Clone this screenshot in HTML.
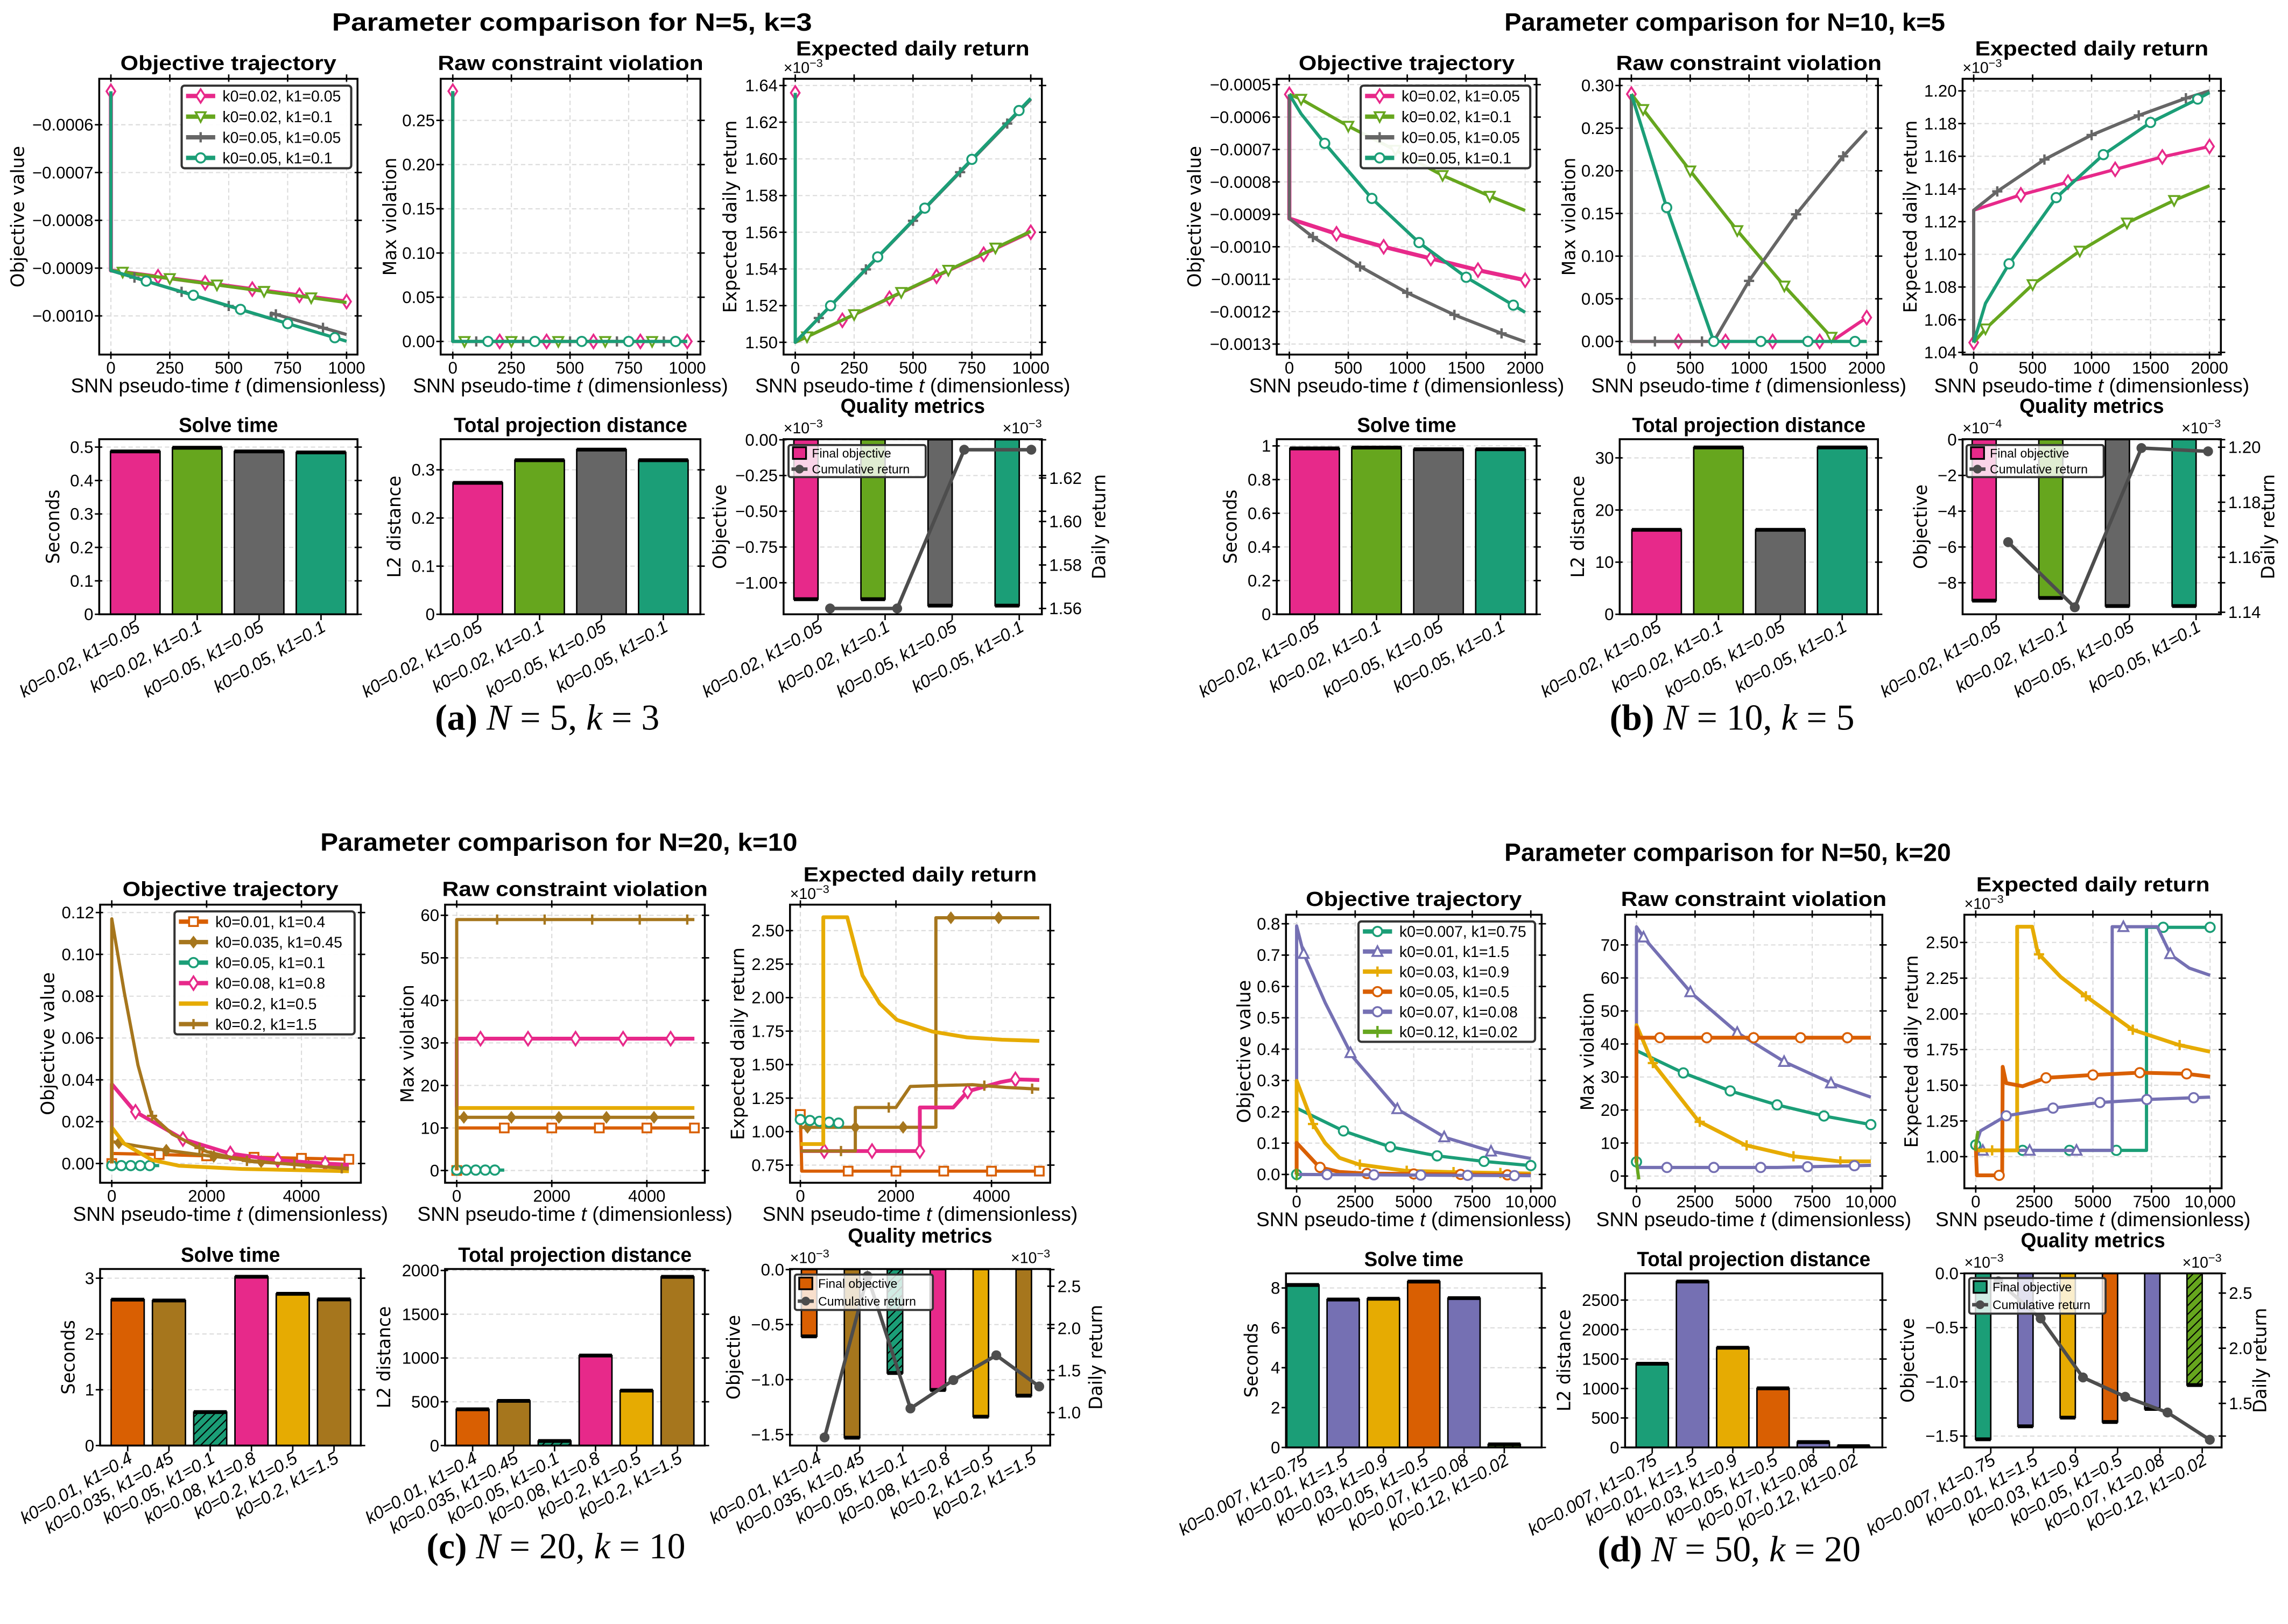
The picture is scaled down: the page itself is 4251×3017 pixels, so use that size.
<!DOCTYPE html>
<html><head><meta charset="utf-8"><title>Parameter comparison figure</title>
<style>html,body{margin:0;padding:0;background:#fff}svg{display:block}</style></head>
<body>
<svg id="chart" xmlns="http://www.w3.org/2000/svg" width="4251" height="3017" viewBox="0 0 1568 1113" preserveAspectRatio="none" font-family="'Liberation Sans', 'DejaVu Sans', sans-serif">
<defs>
<pattern id="hatch" patternUnits="userSpaceOnUse" width="6" height="6"><path d="M0,6 L6,0 M-1,1 L1,-1 M5,7 L7,5" stroke="#000" stroke-width="0.8"/></pattern>
</defs>
<rect x="0" y="0" width="1568" height="1113" fill="#fff"/>
</svg>
<script>
// ---------- colours ----------
const PINK='#e7298a', GREEN='#66a61e', GRAY='#666666', TEAL='#1b9e77', ORANGE='#d95f02', BROWN='#a6761d', YELLOW='#e6ab02', PURPLE='#7570b3';

// ---------- (a) N=5,k=3 ----------
const aLabels=['k0=0.02, k1=0.05','k0=0.02, k1=0.1','k0=0.05, k1=0.05','k0=0.05, k1=0.1'];
const aObjPinkT=[0,0,1000], aObjPinkV=[-0.00053,-0.000905,-0.00097];
const aObjGreenT=[0,0,1000], aObjGreenV=[-0.00053,-0.000905,-0.000972];
const aObjGrayT=[0,0,680,680,1000], aObjGrayV=[-0.00053,-0.000905,-0.001006,-0.000994,-0.001039];
const aObjTealT=[0,0,1000], aObjTealV=[-0.00053,-0.000905,-0.001053];
const aVioPinkT=[0,0,1000], aVioPinkV=[0.283,0,0];
const aVioGreenT=[0,0,1000], aVioGreenV=[0.283,0,0];
const aVioGrayT=[0,0,1000], aVioGrayV=[0.283,0,0];
const aVioTealT=[0,0,1000], aVioTealV=[0.283,0,0];
const aRetPinkT=[0,0,1000], aRetPinkV=[1.636,1.50,1.56];
const aRetGreenT=[0,0,1000], aRetGreenV=[1.636,1.50,1.5605];
const aRetGrayT=[0,0,1000], aRetGrayV=[1.636,1.50,1.6325];
const aRetTealT=[0,0,1000], aRetTealV=[1.636,1.50,1.633];
const aMkPink=[0,200,400,600,800,1000], aMkGreen=[50,250,450,650,850], aMkGray=[100,300,500,700,900], aMkTeal=[150,350,550,750,950];
const aTime=[0.487,0.498,0.487,0.484];
const aProj=[0.273,0.320,0.342,0.320];
const aQObj=[-1.115,-1.115,-1.16,-1.16];
const aQRet=[1.56,1.56,1.633,1.633];

// ---------- (b) N=10,k=5 ----------
const bLabels=aLabels;
const bObjPinkT=[0,0,400,800,1200,1600,2000], bObjPinkV=[-0.00053,-0.000913,-0.00096,-0.001,-0.001036,-0.001072,-0.001103];
const bObjGreenT=[0,100,500,900,1300,1700,2000], bObjGreenV=[-0.00053,-0.000545,-0.000628,-0.000702,-0.00078,-0.000844,-0.000888];
const bObjGrayT=[0,0,200,600,1000,1400,1800,2000], bObjGrayV=[-0.00053,-0.000913,-0.00097,-0.001061,-0.001142,-0.00121,-0.001267,-0.001293];
const bObjTealT=[0,100,300,700,1100,1500,1900,2000], bObjTealV=[-0.00053,-0.00059,-0.000681,-0.000851,-0.000987,-0.001094,-0.00118,-0.001202];
const bVioPinkT=[0,0,1700,2000], bVioPinkV=[0.29,0,0,0.028];
const bVioGreenT=[0,100,500,900,1300,1700,1720,2000], bVioGreenV=[0.29,0.272,0.2,0.13,0.065,0.005,0,0];
const bVioGrayT=[0,0,700,1000,1400,1800,2000], bVioGrayV=[0.29,0,0,0.071,0.149,0.217,0.247];
const bVioTealT=[0,300,700,2000], bVioTealV=[0.29,0.157,0,0];
const bRetPinkT=[0,0,400,1200,1600,2000], bRetPinkV=[1.046,1.127,1.1364,1.152,1.1596,1.166];
const bRetGreenT=[0,100,500,900,1300,1700,2000], bRetGreenV=[1.046,1.0544,1.0815,1.102,1.1192,1.133,1.142];
const bRetGrayT=[0,0,200,600,1000,1400,1800,2000], bRetGrayV=[1.046,1.127,1.1385,1.158,1.173,1.185,1.1955,1.2];
const bRetTealT=[0,100,300,700,1100,1500,1900,2000], bRetTealV=[1.046,1.07,1.0942,1.1347,1.161,1.1807,1.195,1.199];
const bMkPink=[0,400,800,1200,1600,2000], bMkGreen=[100,500,900,1300,1700], bMkGray=[200,600,1000,1400,1800], bMkTeal=[300,700,1100,1500,1900];
const bTime=[0.985,0.99,0.98,0.98];
const bProj=[16.2,32.0,16.2,32.0];
const bQObj=[-9.0,-8.85,-9.3,-9.3];
const bQRet=[1.1655,1.1418,1.1997,1.1985];

// ---------- (c) N=20,k=10 ----------
const cLabels=['k0=0.01, k1=0.4','k0=0.035, k1=0.45','k0=0.05, k1=0.1','k0=0.08, k1=0.8','k0=0.2, k1=0.5','k0=0.2, k1=1.5'];
const cObjOrangeT=[0,0,1000,3000,5000], cObjOrangeV=[0,0.0048,0.0043,0.003,0.002];
const cObjBrownAT=[0,0,500,1000,2000,3000,4000,5000], cObjBrownAV=[0,0.0105,0.0085,0.0068,0.0038,0.0012,-0.0008,-0.0022];
const cObjTealT=[0,1000], cObjTealV=[-0.001,-0.001];
const cObjPinkT=[0,0,480,1500,2490,3460,4480,5000], cObjPinkV=[0,0.038,0.025,0.0117,0.0048,0.0017,0,-0.0006];
const cObjYellowT=[0,0,262,844,1425,2735,5000], cObjYellowV=[0,0.0173,0.0095,0.0017,-0.0011,-0.0026,-0.0037];
const cObjBrownBT=[0,0,262,553,844,1280,2007,2900,4000,5000], cObjBrownBV=[0,0.117,0.082,0.047,0.0229,0.014,0.0056,0.001,-0.0006,-0.0026];
const cVioOrangeT=[0,0,5000], cVioOrangeV=[0,10,10];
const cVioBrownAT=[0,0,5000], cVioBrownAV=[0,12.5,12.5];
const cVioTealT=[0,1000], cVioTealV=[0.1,0.1];
const cVioPinkT=[0,0,5000], cVioPinkV=[0,31,31];
const cVioYellowT=[0,0,5000], cVioYellowV=[0,14.7,14.7];
const cVioBrownBT=[0,0,5000], cVioBrownBV=[0,59,59];
const cRetOrangeT=[0,30,5000], cRetOrangeV=[1.128,0.705,0.705];
const cRetBrownAT=[0,100,2836,2836,5000], cRetBrownAV=[1.03,1.032,1.032,2.596,2.596];
const cRetTealT=[0,900], cRetTealV=[1.09,1.06];
const cRetPinkT=[0,2500,2500,3200,3500,4200,4500,5000], cRetPinkV=[0.855,0.855,1.18,1.18,1.30,1.37,1.39,1.385];
const cRetYellowT=[0,480,480,980,1300,1660,2020,2760,3490,4220,5000], cRetYellowV=[0.907,0.907,2.60,2.60,2.165,1.956,1.834,1.747,1.703,1.686,1.677];
const cRetBrownBT=[0,1150,1150,2000,2300,3000,3600,4300,5000], cRetBrownBV=[0.855,0.855,1.18,1.18,1.337,1.345,1.35,1.33,1.317];
const cMkOrange=[0,1000,2000,3000,4000,5000], cMkBrownA=[150,1150,2150,3150,4150], cMkTeal=[0,200,400,600,800], cMkPink=[500,1500,2500,3500,4500], cMkYellow=[], cMkBrownB=[850,1850,2850,3850,4850];
const cTime=[2.616,2.60,0.60,3.026,2.72,2.62];
const cProj=[414,510,52,1028,628,1927];
const cQObj=[-0.607,-1.528,-0.94,-1.094,-1.337,-1.146];
const cQRet=[0.705,2.62,1.049,1.386,1.68,1.31];

// ---------- (d) N=50,k=20 ----------
const dLabels=['k0=0.007, k1=0.75','k0=0.01, k1=1.5','k0=0.03, k1=0.9','k0=0.05, k1=0.5','k0=0.07, k1=0.08','k0=0.12, k1=0.02'];
const dObjTealT=[0,0,2012,3994,5976,7988,10000], dObjTealV=[0,0.2115,0.1385,0.088,0.0596,0.0417,0.0283];
const dObjPurpleAT=[0,0,300,1220,2378,4329,6341,8354,10000], dObjPurpleAV=[0,0.793,0.705,0.548,0.377,0.207,0.118,0.073,0.051];
const dObjYellowT=[0,0,700,1220,1830,2652,4634,6707,10000], dObjYellowV=[0,0.2987,0.161,0.10,0.053,0.032,0.012,0.0074,0.003];
const dObjOrangeT=[0,0,975,1830,3000,10000], dObjOrangeV=[0,0.101,0.023,0.008,0.003,-0.002];
const dObjPurpleBT=[0,10000], dObjPurpleBV=[0,-0.004];
const dObjGreenT=[0,100], dObjGreenV=[0,0];
const dVioTealT=[0,0,2012,3994,5976,7988,10000], dVioTealV=[4.3,38,31.2,25.8,21.6,18.2,15.6];
const dVioPurpleAT=[0,0,335,2347,4329,6341,8354,10000], dVioPurpleAV=[4.5,75.5,72,55.4,43.3,34.5,28,23.9];
const dVioYellowT=[0,0,670,2652,4634,6677,8659,10000], dVioYellowV=[4.3,45.7,34.5,16.6,9.4,6.0,4.45,4.45];
const dVioOrangeT=[0,0,100,10000], dVioOrangeV=[4,45,41.9,41.9];
const dVioPurpleBT=[0,50,6000,10000], dVioPurpleBV=[4.3,2.6,2.6,3.25];
const dVioGreenT=[0,100], dVioGreenV=[4.3,-1];
const dRetTealT=[0,200,7287,7287,10000], dRetTealV=[1.082,1.044,1.044,2.606,2.606];
const dRetPurpleAT=[0,5823,5823,7744,8323,9116,10000], dRetPurpleAV=[1.044,1.044,2.61,2.61,2.413,2.32,2.27];
const dRetYellowT=[0,1768,1768,2409,2652,3628,4665,6677,8628,10000], dRetYellowV=[1.044,1.044,2.61,2.61,2.425,2.258,2.127,1.89,1.784,1.735];
const dRetOrangeT=[0,50,1128,1150,1300,2000,3000,5000,7000,9000,10000], dRetOrangeV=[1.08,0.869,0.869,1.629,1.515,1.493,1.552,1.572,1.588,1.58,1.56];
const dRetPurpleBT=[0,200,1300,3300,5300,7300,10000], dRetPurpleBV=[1.08,1.18,1.286,1.34,1.379,1.40,1.417];
const dRetGreenT=[0,100], dRetGreenV=[1.08,1.18];
const dMkTeal=[0,2000,4000,6000,8000,10000], dMkPurpleA=[300,2300,4300,6300,8300], dMkYellow=[700,2700,4700,6700,8700], dMkOrange=[1000,3000,5000,7000,9000], dMkPurpleB=[1300,3300,5300,7300,9300], dMkGreen=[0];
const dTime=[8.15,7.42,7.46,8.32,7.49,0.155];
const dProj=[1420,2815,1692,1003,91,21];
const dQObj=[-1.53,-1.41,-1.33,-1.37,-1.25,-1.03];
const dQRet=[2.606,2.27,1.735,1.56,1.417,1.17];

// ---------- helpers ----------
const NS='http://www.w3.org/2000/svg';
const svg=document.getElementById('chart');
const defs=svg.querySelector('defs');
function el(tag, attrs, parent, name, text){
  const e=document.createElementNS(NS,tag);
  for(const k in attrs) e.setAttribute(k,attrs[k]);
  
  
  if(text!=null) e.textContent=text;
  (parent||svg).appendChild(e);
  return e;
}
function lin(v1,p1,v2,p2){return v=>p1+(v-v1)*(p2-p1)/(v2-v1);}
function interp(T,V,t){
  if(t<=T[0]) return V[0];
  for(let i=0;i<T.length-1;i++){ if(t>=T[i]&&t<=T[i+1]&&T[i+1]>T[i]) return V[i]+(V[i+1]-V[i])*(t-T[i])/(T[i+1]-T[i]); }
  return V[V.length-1];
}
function marker(g,type,x,y,c){
  const n='marker';
  if(type==='o') return el('circle',{cx:x,cy:y,r:3.2,fill:'#fff',stroke:c,'stroke-width':1.3},g,n);
  if(type==='thin') return el('polygon',{points:`${x},${y-4.6} ${x+3},${y} ${x},${y+4.6} ${x-3},${y}`,fill:'#fff',stroke:c,'stroke-width':1.3},g,n);
  if(type==='D') return el('polygon',{points:`${x},${y-3.6} ${x+2.8},${y} ${x},${y+3.6} ${x-2.8},${y}`,fill:c,stroke:c,'stroke-width':1},g,n);
  if(type==='v') return el('polygon',{points:`${x-3.4},${y-3} ${x+3.4},${y-3} ${x},${y+3.6}`,fill:'#fff',stroke:c,'stroke-width':1.3},g,n);
  if(type==='^') return el('polygon',{points:`${x-3.4},${y+3} ${x+3.4},${y+3} ${x},${y-3.6}`,fill:'#fff',stroke:c,'stroke-width':1.3},g,n);
  if(type==='s') return el('rect',{x:x-3,y:y-3,width:6,height:6,fill:'#fff',stroke:c,'stroke-width':1.3},g,n);
  if(type==='+') return el('path',{d:`M${x-3.5},${y}H${x+3.5}M${x},${y-3.5}V${y+3.5}`,stroke:c,'stroke-width':1.6,fill:'none'},g,n);
  if(type==='|') return el('path',{d:`M${x},${y-4}V${y+4}`,stroke:c,'stroke-width':1.6},g,n);
  if(type==='.') return el('circle',{cx:x,cy:y,r:1.5,fill:c},g,n);
}
function expLabel(g,x,y,anchor,e){
  const t=el('text',{x:x,y:y,'font-size':10.5,'text-anchor':anchor},g,'axis-exponent','×10');
  el('tspan',{dy:-4,'font-size':8},t,'exponent-power',e);
  return t;
}
function ylab(g,x,cy,str,len){
  el('text',{x:0,y:0,transform:`translate(${x},${cy}) rotate(-90)`,'text-anchor':'middle','font-family':"'DejaVu Sans', sans-serif",'font-size':12.5,textLength:len,lengthAdjust:'spacingAndGlyphs','dominant-baseline':'middle'},g,'y-axis-title',str);
}
function title(g,b,str,len,dy){
  el('text',{x:(b.x0+b.x1)/2,y:b.y0-dy,'text-anchor':'middle','font-weight':'bold','font-size':14,textLength:len,lengthAdjust:'spacingAndGlyphs'},g,'subplot-title',str);
}
function yTicks(g,b,sy,ticks,labels,grid,side){
  ticks.forEach((v,i)=>{
    const y=sy(v);
    if(grid) el('line',{x1:b.x0,x2:b.x1,y1:y,y2:y,stroke:'#dcdcdc','stroke-width':0.8,'stroke-dasharray':'3,2'},g,'y-gridline');
    if(side==='left'){
      el('line',{x1:b.x0-3,x2:b.x0+2,y1:y,y2:y,stroke:'#000','stroke-width':1},g,'y-tick');
      el('line',{x1:b.x1-2,x2:b.x1+3,y1:y,y2:y,stroke:'#000','stroke-width':1},g,'y-tick');
      el('text',{x:b.x0-4,y:y+4,'text-anchor':'end','font-size':11.5},g,'y-tick-label',labels[i]);
    } else {
      el('line',{x1:b.x1-2,x2:b.x1+3,y1:y,y2:y,stroke:'#000','stroke-width':1},g,'y-tick-right');
      el('text',{x:b.x1+5,y:y+4,'text-anchor':'start','font-size':11.5},g,'y-tick-label-right',labels[i]);
    }
  });
}

// ---------- line panel ----------
let clipId=0;
function linePanel(p){
  const g=el('g',{},svg,p.name);
  const b=p.box, sx=lin(...p.xc), sy=lin(...p.yc);
  p.xt.forEach(v=>el('line',{x1:sx(v),x2:sx(v),y1:b.y0,y2:b.y1,stroke:'#dcdcdc','stroke-width':0.8,'stroke-dasharray':'3,2'},g,'x-gridline'));
  yTicks(g,b,sy,p.yt,p.yl,true,'left');
  const cid='clip'+(clipId++);
  const cp=el('clipPath',{id:cid},defs,'clip-region');
  el('rect',{x:b.x0,y:b.y0,width:b.x1-b.x0,height:b.y1-b.y0},cp,'clip-rect');
  const sg=el('g',{'clip-path':`url(#${cid})`},g,'series-group');
  p.series.forEach(s=>{
    const pts=s.t.map((t,i)=>sx(t).toFixed(2)+','+sy(s.v[i]).toFixed(2)).join(' ');
    el('polyline',{points:pts,fill:'none',stroke:s.c,'stroke-width':s.lw||2.2,'stroke-linejoin':'round'},sg,'series-line');
    s.mt.forEach(t=>marker(sg,s.m,sx(t),sy(interp(s.t,s.v,t)),s.c));
  });
  el('rect',{x:b.x0,y:b.y0,width:b.x1-b.x0,height:b.y1-b.y0,fill:'none',stroke:'#000','stroke-width':1.3},g,'plot-frame');
  p.xt.forEach((v,i)=>{
    const x=sx(v);
    el('line',{x1:x,x2:x,y1:b.y1-2,y2:b.y1+3,stroke:'#000','stroke-width':1},g,'x-tick');
    el('line',{x1:x,x2:x,y1:b.y0-3,y2:b.y0+2,stroke:'#000','stroke-width':1},g,'x-tick');
    el('text',{x:x,y:b.y1+13,'text-anchor':'middle','font-size':11.5},g,'x-tick-label',p.xl[i]);
  });
  const xl=el('text',{x:(b.x0+b.x1)/2,y:b.y1+26,'text-anchor':'middle','font-size':13.5,textLength:216,lengthAdjust:'spacingAndGlyphs'},g,'x-axis-title','SNN pseudo-time ');
  el('tspan',{'font-style':'italic'},xl,'x-axis-title-var','t');
  el('tspan',{},xl,'x-axis-title-unit',' (dimensionless)');
  ylab(g,b.x0+p.ylx,(b.y0+b.y1)/2,p.ylab,p.yll);
  title(g,b,p.title,p.tl,p.exp?16:6);
  if(p.exp) expLabel(g,b.x0,b.y0-4,'start',p.exp);
  if(p.legend){
    const L=p.legend;
    const lg=el('g',{},g,'legend');
    el('rect',{x:L.x0,y:L.y0,width:L.x1-L.x0,height:L.y1-L.y0,rx:2,fill:'#fff','fill-opacity':0.92,stroke:'#333','stroke-width':1.5},lg,'legend-box');
    const step=(L.y1-L.y0)/p.series.length;
    p.series.forEach((s,i)=>{
      const y=L.y0+step*(i+0.5);
      const e=el('g',{},lg,'legend-entry');
      el('line',{x1:L.x0+3,x2:L.x0+23,y1:y,y2:y,stroke:s.c,'stroke-width':3},e,'legend-swatch');
      marker(e,s.m,L.x0+13,y,s.c);
      el('text',{x:L.x0+28,y:y+3.8,'font-size':10.5},e,'legend-label',p.labels[i]);
    });
  }
}

// ---------- bar panel ----------
function barPanel(p){
  const g=el('g',{},svg,p.name);
  const b=p.box, sy=lin(...p.yc), sc=lin(0,p.cc[0],p.vals.length-1,p.cc[1]);
  const slot=(p.cc[1]-p.cc[0])/(p.vals.length-1);
  yTicks(g,b,sy,p.yt,p.yl,true,'left');
  p.vals.forEach((v,i)=>{
    const cx=sc(i), w=slot*0.8, y0=sy(0), y1=sy(v);
    const top=Math.min(y0,y1), h=Math.abs(y1-y0);
    el('rect',{x:cx-w/2,y:top,width:w,height:h,fill:p.colors[i],stroke:'#000','stroke-width':1},g,'bar');
    if(p.hatch[i]) el('rect',{x:cx-w/2,y:top,width:w,height:h,fill:'url(#hatch)'},g,'bar-hatch');
    el('line',{x1:cx-w/2,x2:cx+w/2,y1:y1,y2:y1,stroke:'#000','stroke-width':2.6},g,'bar-cap');
  });
  el('rect',{x:b.x0,y:b.y0,width:b.x1-b.x0,height:b.y1-b.y0,fill:'none',stroke:'#000','stroke-width':1.3},g,'plot-frame');
  catLabels(g,b,sc,p.labels);
  ylab(g,b.x0+p.ylx,(b.y0+b.y1)/2,p.ylab,p.yll);
  title(g,b,p.title,p.tl,5);
}
function catLabels(g,b,sc,labels){
  labels.forEach((l,i)=>{
    const x=sc(i);
    el('line',{x1:x,x2:x,y1:b.y1,y2:b.y1+4,stroke:'#000','stroke-width':1},g,'x-tick');
    el('text',{x:0,y:0,transform:`translate(${x+4},${b.y1+11}) rotate(-30)`,'text-anchor':'end','font-size':12,'font-style':'italic'},g,'x-tick-label',l);
  });
}

// ---------- quality panel ----------
function qualPanel(p){
  const g=el('g',{},svg,p.name);
  const b=p.box, sy=lin(...p.yc), sr=lin(...p.rc), sc=lin(0,p.cc[0],p.obj.length-1,p.cc[1]);
  const slot=(p.cc[1]-p.cc[0])/(p.obj.length-1);
  yTicks(g,b,sy,p.yt,p.yl,true,'left');
  p.obj.forEach((v,i)=>{
    const cx=sc(i)-slot*0.18, w=slot*0.36, y0=sy(0), y1=sy(v);
    el('rect',{x:cx-w/2,y:Math.min(y0,y1),width:w,height:Math.abs(y1-y0),fill:p.colors[i],stroke:'#000','stroke-width':1},g,'objective-bar');
    if(p.hatch[i]) el('rect',{x:cx-w/2,y:Math.min(y0,y1),width:w,height:Math.abs(y1-y0),fill:'url(#hatch)'},g,'bar-hatch');
    el('line',{x1:cx-w/2,x2:cx+w/2,y1:y1,y2:y1,stroke:'#000','stroke-width':2.6},g,'bar-cap');
  });
  const pts=p.ret.map((v,i)=>(sc(i)+slot*0.18).toFixed(2)+','+sr(v).toFixed(2)).join(' ');
  el('polyline',{points:pts,fill:'none',stroke:'#4d4d4d','stroke-width':2.4},g,'cumulative-return-line');
  p.ret.forEach((v,i)=>el('circle',{cx:sc(i)+slot*0.18,cy:sr(v),r:3.4,fill:'#4d4d4d'},g,'cumulative-return-point'));
  el('rect',{x:b.x0,y:b.y0,width:b.x1-b.x0,height:b.y1-b.y0,fill:'none',stroke:'#000','stroke-width':1.3},g,'plot-frame');
  yTicks(g,b,sr,p.rt,p.rl,false,'right');
  catLabels(g,b,sc,p.labels);
  ylab(g,b.x0+p.ylx,(b.y0+b.y1)/2,'Objective',58);
  ylab(g,b.x1+p.rlx,(b.y0+b.y1)/2,'Daily return',72);
  title(g,b,'Quality metrics',99,18);
  expLabel(g,b.x0,b.y0-4,'start',p.exp);
  expLabel(g,b.x1,b.y0-4,'end','−3');
  const L=p.legend, lg=el('g',{},g,'legend');
  el('rect',{x:L[0],y:L[1],width:L[2]-L[0],height:L[3]-L[1],rx:1.5,fill:'#fff','fill-opacity':0.8,stroke:'#333','stroke-width':1.4},lg,'legend-box');
  const h=(L[3]-L[1])/2;
  el('rect',{x:L[0]+3,y:L[1]+h*0.5-4,width:9,height:8,fill:p.colors[0],stroke:'#000','stroke-width':1.2},lg,'legend-swatch');
  el('text',{x:L[0]+16,y:L[1]+h*0.5+3,'font-size':8.5},lg,'legend-label','Final objective');
  el('line',{x1:L[0]+2,x2:L[0]+13,y1:L[1]+h*1.5,y2:L[1]+h*1.5,stroke:'#4d4d4d','stroke-width':2.4},lg,'legend-swatch');
  el('circle',{cx:L[0]+7.5,cy:L[1]+h*1.5,r:3,fill:'#4d4d4d'},lg,'legend-marker');
  el('text',{x:L[0]+16,y:L[1]+h*1.5+3,'font-size':8.5},lg,'legend-label','Cumulative return');
}

function suptitle(x,y,str,len){el('text',{x:x,y:y,'text-anchor':'middle','font-weight':'bold','font-size':17,textLength:len,lengthAdjust:'spacingAndGlyphs'},svg,'figure-title',str);}
function caption(x,y,letter,n,k){
  const t=el('text',{x:x,y:y,'text-anchor':'middle','font-family':"'Liberation Serif', serif",'font-size':25},svg,'subfigure-caption','');
  el('tspan',{'font-weight':'bold'},t,'caption-letter','('+letter+')');
  el('tspan',{'font-style':'italic'},t,'caption-var',' N');
  el('tspan',{},t,'caption-text',' = '+n+', ');
  el('tspan',{'font-style':'italic'},t,'caption-var','k');
  el('tspan',{},t,'caption-text',' = '+k);
}
const f5=v=>v.toFixed(4).replace('-','−');
const f2=v=>v.toFixed(2).replace('-','−');
const f1=v=>v.toFixed(1).replace('-','−');
const fi=v=>String(v).replace('-','−');

// ================= FIGURE A =================
suptitle(392,21,'Parameter comparison for N=5, k=3',329);
linePanel({name:'a-objective-trajectory',box:{x0:68,x1:245,y0:54,y1:243},xc:[0,76,1000,237.5],yc:[-0.0006,85.5,-0.001,216.5],
  xt:[0,250,500,750,1000],xl:['0','250','500','750','1000'],yt:[-0.0006,-0.0007,-0.0008,-0.0009,-0.001],yl:[-0.0006,-0.0007,-0.0008,-0.0009,-0.001].map(f5),
  title:'Objective trajectory',tl:148,ylab:'Objective value',ylx:-55,yll:97,labels:aLabels,legend:{x0:124.5,x1:240.7,y0:58.7,y1:115.3},
  series:[{t:aObjPinkT,v:aObjPinkV,c:PINK,m:'thin',mt:aMkPink,lw:2.8},{t:aObjGreenT,v:aObjGreenV,c:GREEN,m:'v',mt:aMkGreen},{t:aObjGrayT,v:aObjGrayV,c:GRAY,m:'+',mt:aMkGray},{t:aObjTealT,v:aObjTealV,c:TEAL,m:'o',mt:aMkTeal}]});
linePanel({name:'a-raw-constraint-violation',box:{x0:302,x1:480,y0:54,y1:243},xc:[0,310.3,1000,471],yc:[0,234,0.25,82.5],
  xt:[0,250,500,750,1000],xl:['0','250','500','750','1000'],yt:[0,0.05,0.1,0.15,0.2,0.25],yl:[0,0.05,0.1,0.15,0.2,0.25].map(f2),
  title:'Raw constraint violation',tl:182,ylab:'Max violation',ylx:-34,yll:81,
  series:[{t:aVioPinkT,v:aVioPinkV,c:PINK,m:'thin',mt:aMkPink},{t:aVioGreenT,v:aVioGreenV,c:GREEN,m:'v',mt:aMkGreen},{t:aVioGrayT,v:aVioGrayV,c:GRAY,m:'+',mt:aMkGray},{t:aVioTealT,v:aVioTealV,c:TEAL,m:'o',mt:aMkTeal}]});
linePanel({name:'a-expected-daily-return',box:{x0:537,x1:714,y0:54,y1:243},xc:[0,545,1000,706.4],yc:[1.5,234.6,1.64,58.6],
  xt:[0,250,500,750,1000],xl:['0','250','500','750','1000'],yt:[1.5,1.52,1.54,1.56,1.58,1.6,1.62,1.64],yl:[1.5,1.52,1.54,1.56,1.58,1.6,1.62,1.64].map(f2),
  title:'Expected daily return',tl:160,ylab:'Expected daily return',ylx:-36,yll:132,exp:'−3',
  series:[{t:aRetPinkT,v:aRetPinkV,c:PINK,m:'thin',mt:aMkPink},{t:aRetGreenT,v:aRetGreenV,c:GREEN,m:'v',mt:aMkGreen},{t:aRetGrayT,v:aRetGrayV,c:GRAY,m:'+',mt:aMkGray},{t:aRetTealT,v:aRetTealV,c:TEAL,m:'o',mt:aMkTeal}]});
barPanel({name:'a-solve-time',box:{x0:68,x1:245,y0:301,y1:421},yc:[0,421,0.5,306.4],cc:[92.7,220],vals:aTime,colors:[PINK,GREEN,GRAY,TEAL],hatch:[0,0,0,0],
  yt:[0,0.1,0.2,0.3,0.4,0.5],yl:['0','0.1','0.2','0.3','0.4','0.5'],labels:aLabels,ylab:'Seconds',ylx:-31,yll:51,title:'Solve time',tl:68});
barPanel({name:'a-total-projection-distance',box:{x0:302,x1:480,y0:301,y1:421},yc:[0,421,0.3,322],cc:[327.4,454.6],vals:aProj,colors:[PINK,GREEN,GRAY,TEAL],hatch:[0,0,0,0],
  yt:[0,0.1,0.2,0.3],yl:['0','0.1','0.2','0.3'],labels:aLabels,ylab:'L2 distance',ylx:-31,yll:70,title:'Total projection distance',tl:160});
qualPanel({name:'a-quality-metrics',box:{x0:537,x1:714,y0:301,y1:421},yc:[0,301.4,-1,399.4],rc:[1.56,417,1.62,327.6],cc:[560.6,698.5],obj:aQObj,ret:aQRet,
  colors:[PINK,GREEN,GRAY,TEAL],hatch:[0,0,0,0],yt:[0,-0.25,-0.5,-0.75,-1],yl:[0,-0.25,-0.5,-0.75,-1].map(f2),rt:[1.56,1.58,1.6,1.62],rl:['1.56','1.58','1.60','1.62'],
  labels:aLabels,ylx:-43,rlx:40,exp:'−3',legend:[540.4,305,634.4,327]});
caption(375,500,'a',5,3);

// ================= FIGURE B =================
suptitle(1182,21,'Parameter comparison for N=10, k=5',302);
linePanel({name:'b-objective-trajectory',box:{x0:875,x1:1053,y0:54,y1:243},xc:[0,883.6,2000,1045.2],yc:[-0.0005,58,-0.0013,235.8],
  xt:[0,500,1000,1500,2000],xl:['0','500','1000','1500','2000'],yt:[-0.0005,-0.0006,-0.0007,-0.0008,-0.0009,-0.001,-0.0011,-0.0012,-0.0013],yl:[-0.0005,-0.0006,-0.0007,-0.0008,-0.0009,-0.001,-0.0011,-0.0012,-0.0013].map(f5),
  title:'Objective trajectory',tl:148,ylab:'Objective value',ylx:-55.5,yll:97,labels:bLabels,legend:{x0:932.5,x1:1048.7,y0:58.7,y1:115.3},
  series:[{t:bObjPinkT,v:bObjPinkV,c:PINK,m:'thin',mt:bMkPink,lw:2.8},{t:bObjGreenT,v:bObjGreenV,c:GREEN,m:'v',mt:bMkGreen},{t:bObjGrayT,v:bObjGrayV,c:GRAY,m:'+',mt:bMkGray},{t:bObjTealT,v:bObjTealV,c:TEAL,m:'o',mt:bMkTeal}]});
linePanel({name:'b-raw-constraint-violation',box:{x0:1110,x1:1287,y0:54,y1:243},xc:[0,1118,2000,1279.3],yc:[0,234,0.3,58.6],
  xt:[0,500,1000,1500,2000],xl:['0','500','1000','1500','2000'],yt:[0,0.05,0.1,0.15,0.2,0.25,0.3],yl:[0,0.05,0.1,0.15,0.2,0.25,0.3].map(f2),
  title:'Raw constraint violation',tl:182,ylab:'Max violation',ylx:-34,yll:81,
  series:[{t:bVioPinkT,v:bVioPinkV,c:PINK,m:'thin',mt:bMkPink},{t:bVioGreenT,v:bVioGreenV,c:GREEN,m:'v',mt:bMkGreen},{t:bVioGrayT,v:bVioGrayV,c:GRAY,m:'+',mt:bMkGray},{t:bVioTealT,v:bVioTealV,c:TEAL,m:'o',mt:bMkTeal}]});
linePanel({name:'b-expected-daily-return',box:{x0:1345,x1:1522,y0:54,y1:243},xc:[0,1352.6,2000,1514.2],yc:[1.04,241.5,1.2,62.3],
  xt:[0,500,1000,1500,2000],xl:['0','500','1000','1500','2000'],yt:[1.04,1.06,1.08,1.1,1.12,1.14,1.16,1.18,1.2],yl:[1.04,1.06,1.08,1.1,1.12,1.14,1.16,1.18,1.2].map(f2),
  title:'Expected daily return',tl:160,ylab:'Expected daily return',ylx:-35,yll:132,exp:'−3',
  series:[{t:bRetPinkT,v:bRetPinkV,c:PINK,m:'thin',mt:bMkPink},{t:bRetGreenT,v:bRetGreenV,c:GREEN,m:'v',mt:bMkGreen},{t:bRetGrayT,v:bRetGrayV,c:GRAY,m:'+',mt:bMkGray},{t:bRetTealT,v:bRetTealV,c:TEAL,m:'o',mt:bMkTeal}]});
barPanel({name:'b-solve-time',box:{x0:875,x1:1053,y0:301,y1:421},yc:[0,421,1,305.6],cc:[900.9,1028.3],vals:bTime,colors:[PINK,GREEN,GRAY,TEAL],hatch:[0,0,0,0],
  yt:[0,0.2,0.4,0.6,0.8,1],yl:['0','0.2','0.4','0.6','0.8','1'],labels:bLabels,ylab:'Seconds',ylx:-31,yll:51,title:'Solve time',tl:68});
barPanel({name:'b-total-projection-distance',box:{x0:1110,x1:1287,y0:301,y1:421},yc:[0,421,30,313.8],cc:[1135.3,1262.5],vals:bProj,colors:[PINK,GREEN,GRAY,TEAL],hatch:[0,0,0,0],
  yt:[0,10,20,30],yl:['0','10','20','30'],labels:bLabels,ylab:'L2 distance',ylx:-28,yll:70,title:'Total projection distance',tl:160});
qualPanel({name:'b-quality-metrics',box:{x0:1345,x1:1522,y0:301,y1:421},yc:[0,301.3,-8,399.4],rc:[1.2,306.5,1.14,419.6],cc:[1368,1505],obj:bQObj,ret:bQRet,
  colors:[PINK,GREEN,GRAY,TEAL],hatch:[0,0,0,0],yt:[0,-2,-4,-6,-8],yl:[0,-2,-4,-6,-8].map(fi),rt:[1.14,1.16,1.18,1.2],rl:['1.14','1.16','1.18','1.20'],
  labels:bLabels,ylx:-28,rlx:33,exp:'−4',legend:[1347.7,305,1441.7,327]});
caption(1187,500,'b',10,5);

// ================= FIGURE C =================
suptitle(383,583,'Parameter comparison for N=20, k=10',327);
const cS=(T1,V1,T2,V2,T3,V3,T4,V4,T5,V5,T6,V6)=>[
  {t:T1,v:V1,c:ORANGE,m:'s',mt:cMkOrange},{t:T2,v:V2,c:BROWN,m:'D',mt:cMkBrownA},{t:T3,v:V3,c:TEAL,m:'o',mt:cMkTeal},
  {t:T4,v:V4,c:PINK,m:'thin',mt:cMkPink,lw:2.6},{t:T5,v:V5,c:YELLOW,m:'.',mt:cMkYellow,lw:2.6},{t:T6,v:V6,c:BROWN,m:'+',mt:cMkBrownB}];
linePanel({name:'c-objective-trajectory',box:{x0:68.6,x1:247.3,y0:620,y1:810.6},xc:[0,76.6,4000,206.6],yc:[0,797.4,0.12,625.4],
  xt:[0,2000,4000],xl:['0','2000','4000'],yt:[0,0.02,0.04,0.06,0.08,0.1,0.12],yl:[0,0.02,0.04,0.06,0.08,0.1,0.12].map(f2),
  title:'Objective trajectory',tl:148,ylab:'Objective value',ylx:-35,yll:98,labels:cLabels,legend:{x0:119.6,x1:243,y0:624.6,y1:708.9},
  series:cS(cObjOrangeT,cObjOrangeV,cObjBrownAT,cObjBrownAV,cObjTealT,cObjTealV,cObjPinkT,cObjPinkV,cObjYellowT,cObjYellowV,cObjBrownBT,cObjBrownBV)});
linePanel({name:'c-raw-constraint-violation',box:{x0:305,x1:483,y0:620,y1:810.6},xc:[0,313,4000,443.3],yc:[0,802.2,60,627.3],
  xt:[0,2000,4000],xl:['0','2000','4000'],yt:[0,10,20,30,40,50,60],yl:['0','10','20','30','40','50','60'],
  title:'Raw constraint violation',tl:182,ylab:'Max violation',ylx:-25,yll:81,
  series:cS(cVioOrangeT,cVioOrangeV,cVioBrownAT,cVioBrownAV,cVioTealT,cVioTealV,cVioPinkT,cVioPinkV,cVioYellowT,cVioYellowV,cVioBrownBT,cVioBrownBV)});
linePanel({name:'c-expected-daily-return',box:{x0:541.4,x1:719.7,y0:620,y1:810.6},xc:[0,548.5,4000,679.5],yc:[0.75,798.5,2.5,637.8],
  xt:[0,2000,4000],xl:['0','2000','4000'],yt:[0.75,1,1.25,1.5,1.75,2,2.25,2.5],yl:[0.75,1,1.25,1.5,1.75,2,2.25,2.5].map(f2),
  title:'Expected daily return',tl:160,ylab:'Expected daily return',ylx:-35,yll:132,exp:'−3',
  series:cS(cRetOrangeT,cRetOrangeV,cRetBrownAT,cRetBrownAV,cRetTealT,cRetTealV,cRetPinkT,cRetPinkV,cRetYellowT,cRetYellowV,cRetBrownBT,cRetBrownBV)});
const cCols=[ORANGE,BROWN,TEAL,PINK,YELLOW,BROWN];
barPanel({name:'c-solve-time',box:{x0:68.6,x1:247.3,y0:869.7,y1:990.7},yc:[0,990.7,3,876],cc:[87.5,228.9],vals:cTime,colors:cCols,hatch:[0,0,1,0,0,0],
  yt:[0,1,2,3],yl:['0','1','2','3'],labels:cLabels,ylab:'Seconds',ylx:-21,yll:51,title:'Solve time',tl:68});
barPanel({name:'c-total-projection-distance',box:{x0:305,x1:483,y0:869.7,y1:990.7},yc:[0,990.7,2000,870.7],cc:[323.9,464.3],vals:cProj,colors:cCols,hatch:[0,0,1,0,0,0],
  yt:[0,500,1000,1500,2000],yl:['0','500','1000','1500','2000'],labels:cLabels,ylab:'L2 distance',ylx:-41,yll:70,title:'Total projection distance',tl:160});
qualPanel({name:'c-quality-metrics',box:{x0:541.4,x1:719.7,y0:869.7,y1:990.7},yc:[0,870.1,-1.5,983.2],rc:[2.5,881.5,1.0,968.1],cc:[559.8,706.9],obj:cQObj,ret:cQRet,
  colors:cCols,hatch:[0,0,1,0,0,0],yt:[0,-0.5,-1,-1.5],yl:[0,-0.5,-1,-1.5].map(f1),rt:[1,1.5,2,2.5],rl:['1.0','1.5','2.0','2.5'],
  labels:cLabels,ylx:-38,rlx:32,exp:'−3',legend:[544.7,873.5,639.3,897.8]});
caption(381,1068,'c',20,10);

// ================= FIGURE D =================
suptitle(1184,590,'Parameter comparison for N=50, k=20',306);
const dS=(T1,V1,T2,V2,T3,V3,T4,V4,T5,V5,T6,V6)=>[
  {t:T1,v:V1,c:TEAL,m:'o',mt:dMkTeal},{t:T2,v:V2,c:PURPLE,m:'^',mt:dMkPurpleA},{t:T3,v:V3,c:YELLOW,m:'+',mt:dMkYellow,lw:2.6},
  {t:T4,v:V4,c:ORANGE,m:'o',mt:dMkOrange,lw:2.6},{t:T5,v:V5,c:PURPLE,m:'o',mt:dMkPurpleB},{t:T6,v:V6,c:GREEN,m:'|',mt:dMkGreen}];
linePanel({name:'d-objective-trajectory',box:{x0:881.3,x1:1056.5,y0:626.9,y1:814.4},xc:[0,888.6,10000,1049.1],yc:[0,804.9,0.8,633.1],
  xt:[0,2500,5000,7500,10000],xl:['0','2500','5000','7500','10,000'],yt:[0,0.1,0.2,0.3,0.4,0.5,0.6,0.7,0.8],yl:[0,0.1,0.2,0.3,0.4,0.5,0.6,0.7,0.8].map(f1),
  title:'Objective trajectory',tl:148,ylab:'Objective value',ylx:-28,yll:98,labels:dLabels,legend:{x0:931,x1:1052,y0:631.5,y1:714},
  series:dS(dObjTealT,dObjTealV,dObjPurpleAT,dObjPurpleAV,dObjYellowT,dObjYellowV,dObjOrangeT,dObjOrangeV,dObjPurpleBT,dObjPurpleBV,dObjGreenT,dObjGreenV)});
linePanel({name:'d-raw-constraint-violation',box:{x0:1113.7,x1:1290,y0:626.9,y1:814.4},xc:[0,1121.5,10000,1282.1],yc:[0,806,70,647.6],
  xt:[0,2500,5000,7500,10000],xl:['0','2500','5000','7500','10,000'],yt:[0,10,20,30,40,50,60,70],yl:['0','10','20','30','40','50','60','70'],
  title:'Raw constraint violation',tl:182,ylab:'Max violation',ylx:-25,yll:81,
  series:dS(dVioTealT,dVioTealV,dVioPurpleAT,dVioPurpleAV,dVioYellowT,dVioYellowV,dVioOrangeT,dVioOrangeV,dVioPurpleBT,dVioPurpleBV,dVioGreenT,dVioGreenV)});
linePanel({name:'d-expected-daily-return',box:{x0:1346.2,x1:1522.5,y0:626.9,y1:814.4},xc:[0,1354,10000,1514.6],yc:[1,792.7,2.5,645.9],
  xt:[0,2500,5000,7500,10000],xl:['0','2500','5000','7500','10,000'],yt:[1,1.25,1.5,1.75,2,2.25,2.5],yl:[1,1.25,1.5,1.75,2,2.25,2.5].map(f2),
  title:'Expected daily return',tl:160,ylab:'Expected daily return',ylx:-35.5,yll:132,exp:'−3',
  series:dS(dRetTealT,dRetTealV,dRetPurpleAT,dRetPurpleAV,dRetYellowT,dRetYellowV,dRetOrangeT,dRetOrangeV,dRetPurpleBT,dRetPurpleBV,dRetGreenT,dRetGreenV)});
const dCols=[TEAL,PURPLE,YELLOW,ORANGE,PURPLE,GREEN];
barPanel({name:'d-solve-time',box:{x0:881.3,x1:1056.5,y0:872.7,y1:992},yc:[0,992,8,882.7],cc:[892.9,1030.9],vals:dTime,colors:dCols,hatch:[0,0,0,0,0,1],
  yt:[0,2,4,6,8],yl:['0','2','4','6','8'],labels:dLabels,ylab:'Seconds',ylx:-23,yll:51,title:'Solve time',tl:68});
barPanel({name:'d-total-projection-distance',box:{x0:1113.7,x1:1290,y0:872.7,y1:992},yc:[0,992,2500,891],cc:[1132.3,1270.3],vals:dProj,colors:dCols,hatch:[0,0,0,0,0,1],
  yt:[0,500,1000,1500,2000,2500],yl:['0','500','1000','1500','2000','2500'],labels:dLabels,ylab:'L2 distance',ylx:-41,yll:70,title:'Total projection distance',tl:160});
qualPanel({name:'d-quality-metrics',box:{x0:1346.2,x1:1522.5,y0:872.7,y1:992},yc:[0,872.7,-1.5,984.2],rc:[2.5,886.2,1.5,961.8],cc:[1364.3,1509.2],obj:dQObj,ret:dQRet,
  colors:dCols,hatch:[0,0,0,0,0,1],yt:[0,-0.5,-1,-1.5],yl:[0,-0.5,-1,-1.5].map(f1),rt:[1.5,2,2.5],rl:['1.5','2.0','2.5'],
  labels:dLabels,ylx:-38,rlx:27,exp:'−3',legend:[1349.5,875.9,1443,900.3]});
caption(1185,1070,'d',50,20);
</script>
</body></html>
